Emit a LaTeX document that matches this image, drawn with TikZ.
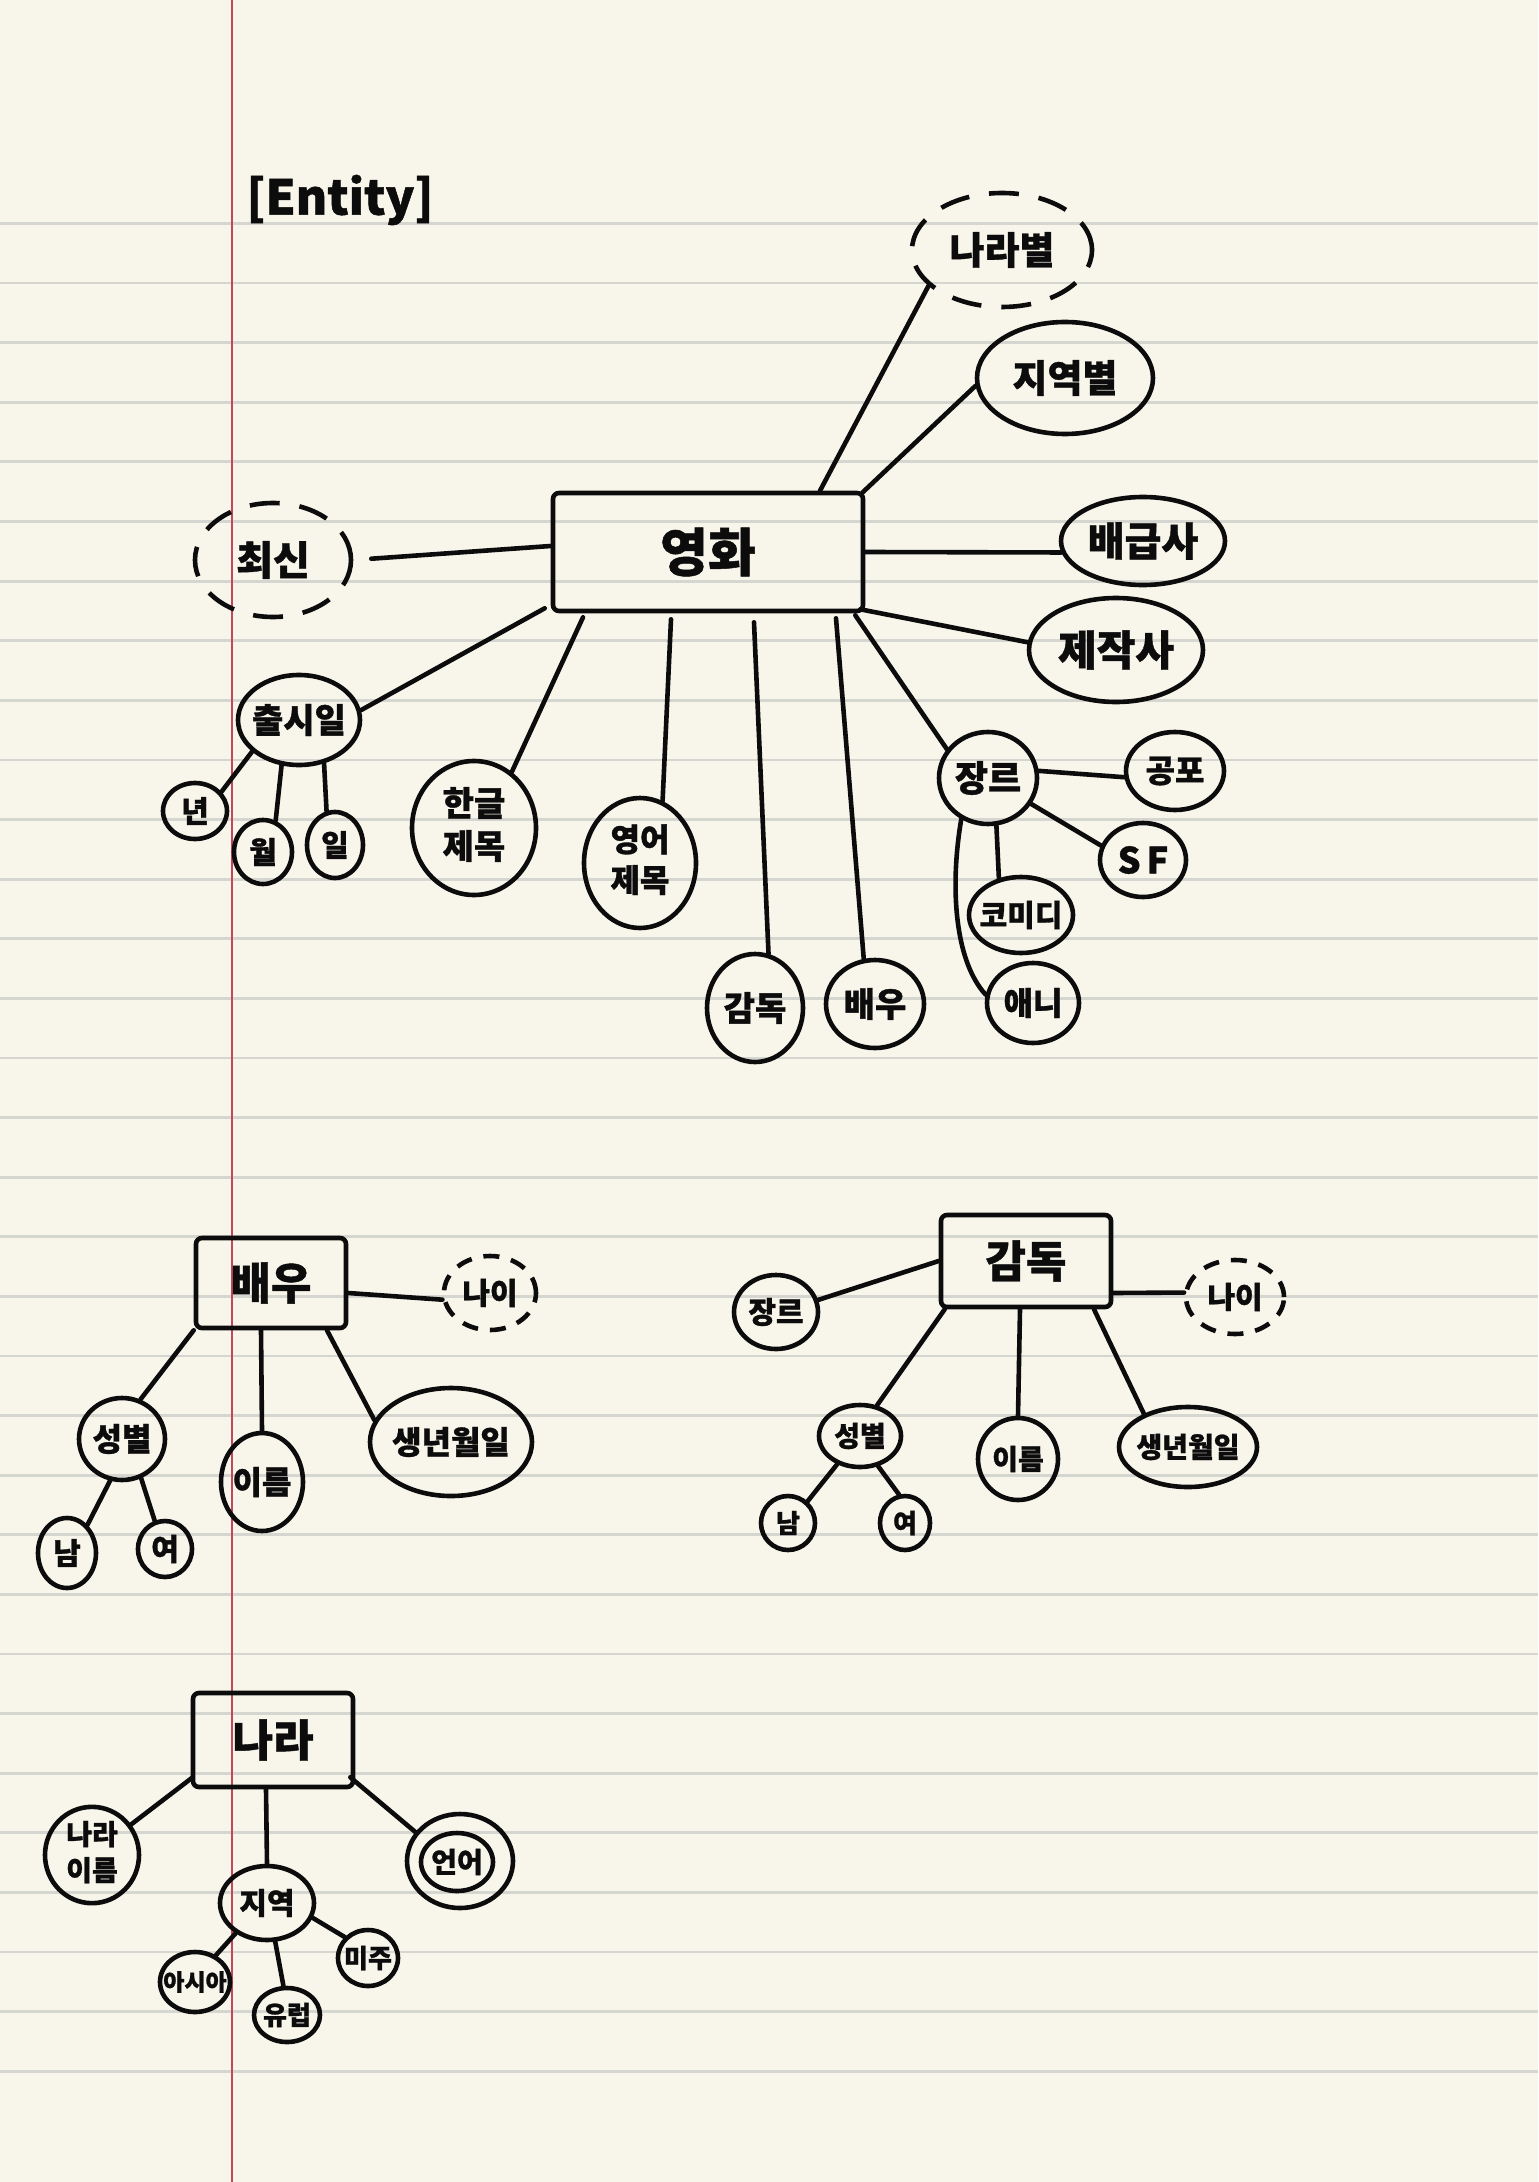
\documentclass[tikz,border=0pt]{standalone}
\usepackage{fontspec}
\setmainfont{Noto Sans CJK KR}[FakeBold=1]
\usetikzlibrary{shapes.geometric,calc}
\definecolor{paperc}{RGB}{248,246,235}
\definecolor{rulec}{RGB}{214,214,209}
\definecolor{marginc}{RGB}{196,70,90}
\definecolor{inkc}{RGB}{12,12,12}
\newcommand\lbl[1]{\makebox[0pt]{#1}}
\newcommand\two[2]{\makebox[0pt]{\begin{tabular}{@{}c@{}}#1\\[2pt]#2\end{tabular}}}
\begin{document}
\begin{tikzpicture}[x=0.5pt,y=-0.5pt,
  fs/.style={font=\fontsize{#1}{#1}\selectfont\bfseries, text=inkc},
  ell/.style 2 args={ellipse, draw=inkc, line width=2.3pt, inner sep=0pt, minimum width=#1pt, minimum height=#2pt},
  ent/.style 2 args={rectangle, rounded corners=3pt, draw=inkc, line width=2.3pt, inner sep=0pt, minimum width=#1pt, minimum height=#2pt},
  dsh/.style={dash pattern=on 15pt off 10pt},
  dshs/.style={dash pattern=on 8pt off 6pt},
  conn/.style={draw=inkc, line width=2.3pt, line cap=round}]
\useasboundingbox (0,0) rectangle (1538,2182);
\fill[paperc] (0,0) rectangle (1538,2182);
\foreach \k in {0,...,31} \draw[rulec, line width=1.4pt] (0,{223.5+59.6*\k}) -- (1538,{223.5+59.6*\k});
\draw[marginc, line width=1pt] (232,0) -- (232,2182);

% title
\node[fs=24] (title) at (340,200) {[Entity]};

% movie entity
\node[ent={155}{59}, fs=26] (movie) at (708,552) {영화};
\node[ell={78}{57}, dsh, fs=20] (choesin) at (273,560) {\lbl{최신}};
\node[ell={90}{57}, dsh, fs=19] (nara) at (1002,250) {\lbl{나라별}};
\node[ell={88}{56}, fs=19] (jiyeok) at (1065,378) {\lbl{지역별}};
\node[ell={82}{44}, fs=20] (baegeup) at (1143,541) {\lbl{배급사}};
\node[ell={87}{52}, fs=21] (jejak) at (1116,650) {\lbl{제작사}};
\node[ell={61}{45}, fs=17] (release) at (299,720) {\lbl{출시일}};
\node[ell={32}{28}, fs=15] (year) at (195,811) {\lbl{년}};
\node[ell={29}{32}, fs=15] (month) at (263,852) {\lbl{월}};
\node[ell={28}{33}, fs=15] (day) at (335,845) {\lbl{일}};
\node[ell={62}{67}, fs=17] (kortitle) at (474,828) {\two{한글}{제목}};
\node[ell={56}{65}, fs=16] (engtitle) at (640,863) {\two{영어}{제목}};
\node[ell={48}{54}, fs=17] (mdir) at (755,1008) {\lbl{감독}};
\node[ell={49}{44}, fs=17] (mactor) at (875,1004) {\lbl{배우}};
\node[ell={49}{46}, fs=18] (mgenre) at (988,778) {\lbl{장르}};
\node[ell={49}{39}, fs=16] (horror) at (1175,771) {\lbl{공포}};
\node[ell={43}{37}, fs=18] (sf) at (1143,860) {\lbl{S\,F}};
\node[ell={52}{38}, fs=15] (comedy) at (1021,915) {\lbl{코미디}};
\node[ell={46}{40}, fs=16] (anime) at (1033,1003) {\lbl{애니}};

\draw[conn, shorten >=9pt] ($(movie.west)+(0,-6)$) -- (choesin.east);
\draw[conn] ($(movie.north)+(112,0)$) -- (nara.-154);
\draw[conn] ($(movie.north east)+(-3,2)$) -- (jiyeok.185);
\draw[conn] (movie.east) -- (baegeup.188);
\draw[conn] ($(movie.south east)+(-5,-4)$) -- (jejak.175);
\draw[conn] ($(movie.south east)+(-10,2)$) -- (mgenre.145);
\draw[conn] ($(movie.south)+(128,5)$) -- (mactor.104);
\draw[conn] ($(movie.south)+(46,9)$) -- (mdir.76);
\draw[conn] ($(movie.south)+(-37,6)$) -- (engtitle.70);
\draw[conn] ($(movie.south)+(-125,4)$) -- (kortitle.56);
\draw[conn] ($(movie.south west)+(-6,-5)$) -- (release.9);
\draw[conn] (release.214) -- (year.36);
\draw[conn] (release.249) -- (month.68);
\draw[conn] (release.300) -- (day.104);
\draw[conn] (mgenre.8) -- (horror.187);
\draw[conn] (mgenre.-31) -- (sf.161);
\draw[conn] (mgenre.-80) -- (comedy.121);
\draw[conn] (mgenre.237) .. controls (950,885) and (954,960) .. (anime.170);

% actor entity
\node[ent={75}{45}, fs=22] (actor) at (271,1283) {배우};
\node[ell={46}{37}, dshs, fs=15] (aage) at (490,1293) {\lbl{나이}};
\node[ell={43}{41}, fs=16] (asex) at (122,1439) {\lbl{성별}};
\node[ell={41}{49}, fs=16] (aname) at (262,1482) {\lbl{이름}};
\node[ell={81}{54}, fs=16] (abirth) at (451,1442) {\lbl{생년월일}};
\node[ell={29}{35}, fs=15] (amale) at (67,1553) {\lbl{남}};
\node[ell={27}{28}, fs=15] (afemale) at (165,1549) {\lbl{여}};

\draw[conn] ($(actor.east)+(0,10)$) -- (aage.188);
\draw[conn] (actor.south west) -- (asex.65);
\draw[conn] ($(actor.south)+(-10,0)$) -- (aname.north);
\draw[conn] ($(actor.south)+(56,0)$) -- (abirth.164);
\draw[conn] (asex.254) -- (amale.54);
\draw[conn] (asex.296) -- (afemale.110);

% director entity
\node[ent={85}{46}, fs=22] (director) at (1026,1261) {감독};
\node[ell={42}{37}, fs=15] (dgenre) at (776,1312) {\lbl{장르}};
\node[ell={49}{37}, dshs, fs=15] (dage) at (1235,1297) {\lbl{나이}};
\node[ell={41}{31}, fs=14] (dsex) at (860,1436) {\lbl{성별}};
\node[ell={40}{41}, fs=14] (dname) at (1018,1459) {\lbl{이름}};
\node[ell={69}{40}, fs=14] (dbirth) at (1188,1447) {\lbl{생년월일}};
\node[ell={27}{27}, fs=13] (dmale) at (788,1523) {\lbl{남}};
\node[ell={25}{27}, fs=13] (dfemale) at (905,1523) {\lbl{여}};

\draw[conn] (director.west) -- (dgenre.16);
\draw[conn] ($(director.east)+(0,32)$) -- (dage.175);
\draw[conn] ($(director.south west)+(6,0)$) -- (dsex.61);
\draw[conn] ($(director.south)+(-6,0)$) -- (dname.north);
\draw[conn] ($(director.south)+(68,0)$) -- (dbirth.143);
\draw[conn] (dsex.231) -- (dmale.48);
\draw[conn] (dsex.301) -- (dfemale.102);

% country entity
\node[ent={80}{47}, fs=22] (country) at (273,1740) {나라};
\node[ell={47}{48}, fs=14] (cname) at (92,1855) {\two{나라}{이름}};
\node[ell={47}{37}, fs=15] (region) at (267,1903) {\lbl{지역}};
\node[ell={53}{47}] (lang) at (460,1861) {};
\node[ell={36}{29}, fs=14] (langin) at (457,1862) {\lbl{언어}};
\node[ell={35}{30}, fs=11.5] (asia) at (195,1982) {\lbl{아시아}};
\node[ell={33}{27}, fs=13] (europe) at (287,2015) {\lbl{유럽}};
\node[ell={30}{28}, fs=13] (america) at (368,1958) {\lbl{미주}};

\draw[conn] ($(country.south west)+(2,-12)$) -- (cname.38);
\draw[conn] ($(country.south)+(-7,0)$) -- (region.north);
\draw[conn] ($(country.south east)+(-5,-12)$) -- (lang.147);
\draw[conn] (region.224) -- (asia.52);
\draw[conn] (region.282) -- (europe.97);
\draw[conn] (region.342) -- (america.138);
\end{tikzpicture}
\end{document}
